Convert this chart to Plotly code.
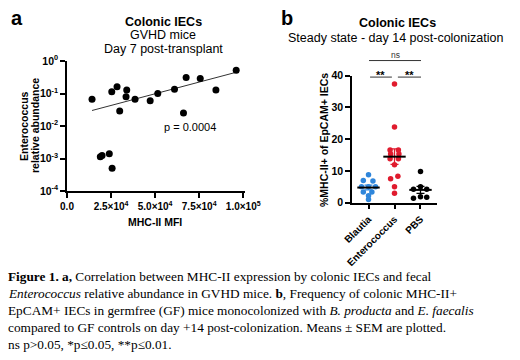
import numpy as np
import plotly.graph_objects as go

# ---------------- Panel a data ----------------
mhc_mfi = [14200, 25400, 28400, 33900, 33500, 38600, 29900, 47200, 51500, 61000,
           67600, 75600, 96000, 84500, 66100, 18900, 19900, 24000, 25600]
entero_abund = [0.066, 0.114, 0.16, 0.128, 0.08, 0.066, 0.029, 0.06, 0.10, 0.135,
                0.31, 0.29, 0.52, 0.128, 0.025, 0.00114, 0.00123, 0.0014, 0.0005]
fit_x = [14200, 96000]
fit_y = [0.030, 0.45]
p_label = "p = 0.0004"
p_pos = [70000, 0.0095]
a_xticks = [0, 25000, 50000, 75000, 100000]
a_xticktext = ["0.0", "2.5×10<sup>4</sup>", "5.0×10<sup>4</sup>", "7.5×10<sup>4</sup>", "1.0×10<sup>5</sup>"]
a_yticks = [1e-4, 1e-3, 1e-2, 1e-1, 1]
a_yticktext = ["10<sup>-4</sup>", "10<sup>-3</sup>", "10<sup>-2</sup>", "10<sup>-1</sup>", "10<sup>0</sup>"]

# ---------------- Panel b data ----------------
groups = ["Blautia", "Enterococcus", "PBS"]
blautia = [8.8, 7.0, 6.8, 5.0, 5.0, 5.0, 3.4, 3.4, 2.2, 1.0]
blautia_jit = [0, -0.2, 0.17, -0.27, 0, 0.27, -0.2, 0.13, 0, 0]
entero = [37.3, 23.8, 16.6, 16.6, 15.3, 15.3, 13.8, 13.8, 11.9, 8.3, 7.5, 5.0, 3.0]
entero_jit = [0, 0, -0.17, 0.15, -0.15, 0.17, -0.17, 0.15, 0, 0.13, -0.15, 0, 0]
pbs = [9.8, 5.0, 4.2, 4.2, 1.9, 1.7, 1.4]
pbs_jit = [0, 0, -0.27, 0.24, 0, 0.24, -0.27]
b_yticks = [0, 10, 20, 30, 40]
brackets = [  # (x0, x1, y, label)
    (0.02, 2.02, 44.7, "ns"),
    (0.06, 0.90, 39.5, "**"),
    (1.13, 2.02, 39.5, "**"),
]
label_y = {"ns": 48.6, "**": 42.8}

caption_lines = [
    "<b>Figure 1. a,</b> Correlation between MHC-II expression by colonic IECs and fecal",
    "<i>Enterococcus</i> relative abundance in GVHD mice. <b>b</b>, Frequency of colonic MHC-II+",
    "EpCAM+ IECs in germfree (GF) mice monocolonized with <i>B. producta</i> and <i>E. faecalis</i>",
    "compared to GF controls on day +14 post-colonization. Means ± SEM are plotted.",
    "ns p>0.05, *p≤0.05, **p≤0.01.",
]

colors = ["#2f86db", "#e01b2e", "#000000"]
FONT = "Liberation Sans, Arial, sans-serif"
SERIF = "Liberation Serif, Times New Roman, serif"

fig = go.Figure()

# Panel a
fig.add_trace(go.Scatter(x=fit_x, y=fit_y, mode="lines", line=dict(color="#333", width=1),
                         xaxis="x", yaxis="y", showlegend=False, hoverinfo="skip"))
fig.add_trace(go.Scatter(x=mhc_mfi, y=entero_abund, mode="markers",
                         marker=dict(color="black", size=7), xaxis="x", yaxis="y",
                         showlegend=False, cliponaxis=False))

# Panel b
data_b = [blautia, entero, pbs]
jits = [blautia_jit, entero_jit, pbs_jit]
B_YMAX = 40
for i, (vals, jit) in enumerate(zip(data_b, jits)):
    vals = np.array(vals)
    mean = vals.mean()
    sem = vals.std(ddof=1) / np.sqrt(len(vals))
    fig.add_trace(go.Scatter(x=[i + j for j in jit], y=vals, mode="markers",
                             marker=dict(color=colors[i], size=5.5), xaxis="x2", yaxis="y2",
                             showlegend=False, cliponaxis=False))
    fig.add_trace(go.Scatter(x=[i], y=[mean], mode="markers",
                             marker=dict(symbol="line-ew", size=16, line=dict(color="black", width=2)),
                             error_y=dict(type="data", array=[sem], color=colors[i], thickness=1.3, width=4),
                             xaxis="x2", yaxis="y2", showlegend=False, cliponaxis=False))

axis_common = dict(showline=True, linecolor="black", linewidth=1.5, ticks="outside",
                   ticklen=5, tickwidth=1.5, tickcolor="black", showgrid=False, zeroline=False,
                   automargin=False,
                   tickfont=dict(family=FONT, size=10, color="black", weight="bold"))

fig.update_layout(
    template="none",
    width=520, height=360, margin=dict(l=0, r=0, t=0, b=0, pad=0),
    plot_bgcolor="white", paper_bgcolor="white",
    font=dict(family=FONT, color="black"),
    xaxis=dict(domain=[67/520, 245/520], range=[0, 101000], tickvals=a_xticks,
               ticktext=a_xticktext, anchor="y", **axis_common),
    yaxis=dict(domain=[1-191/360, 1-61/360], type="log", range=[-4, 0], tickvals=a_yticks,
               ticktext=a_yticktext, anchor="x", **axis_common),
    xaxis2=dict(domain=[352/520, 437/520], range=[-0.635, 2.635], tickvals=[0, 1, 2],
                ticktext=groups, tickangle=-45, anchor="y2", **axis_common),
    yaxis2=dict(domain=[1-202.7/360, 1-75.5/360], range=[0, B_YMAX], tickvals=b_yticks,
                anchor="x2", **axis_common),
)
fig.update_xaxes(tickfont=dict(size=10))
fig.update_yaxes(tickfont=dict(size=10.5))

shapes = []
ann = []
for x0, x1, yv, lab in brackets:
    shapes.append(dict(type="line", xref="x2", yref="y2 domain", x0=x0, x1=x1,
                       y0=yv / B_YMAX, y1=yv / B_YMAX, line=dict(color="#333", width=1)))
    if lab == "ns":
        ann.append(dict(x=(x0 + x1) / 2, y=label_y[lab] / B_YMAX, xref="x2", yref="y2 domain",
                        text="ns", showarrow=False,
                        font=dict(size=8.5, color="#333", family=FONT)))
    else:
        ann.append(dict(x=(x0 + x1) / 2, y=label_y[lab] / B_YMAX, xref="x2", yref="y2 domain",
                        text="<b>**</b>", showarrow=False,
                        font=dict(size=11, color="black", family=FONT)))

ann.append(dict(x=p_pos[0], y=np.log10(p_pos[1]), xref="x", yref="y", text=p_label,
                showarrow=False, font=dict(size=11, family=FONT, color="black")))


def pa(text, x, y, size, bold=False, angle=0, xanchor="center", family=FONT):
    t = f"<b>{text}</b>" if bold else text
    return dict(x=x / 520, y=1 - y / 360, xref="paper", yref="paper", text=t, showarrow=False,
                xanchor=xanchor, yanchor="middle", textangle=angle,
                font=dict(size=size, family=family, color="black"))


ann += [
    pa("a", 17, 18, 20, bold=True),
    pa("b", 287, 18, 20, bold=True),
    pa("Colonic IECs", 163, 22, 12.5, bold=True),
    pa("GVHD mice", 163, 35.5, 12.5),
    pa("Day 7 post-transplant", 163, 49, 12.5),
    pa("Colonic IECs", 397, 23, 12.5, bold=True),
    pa("Steady state - day 14 post-colonization", 395, 38, 12.5),
    pa("Enterococcus", 24, 126, 10.5, bold=True, angle=-90),
    pa("relative abundance", 35, 126, 10.5, bold=True, angle=-90),
    pa("MHC-II MFI", 155, 222, 10.5, bold=True),
    pa("%MHC-II+ of EpCAM+ IECs", 324, 140, 10.5, bold=True, angle=-90),
]

for k, line in enumerate(caption_lines):
    ann.append(pa(line, 6, 276 + 17 * k, 13.3, xanchor="left", family=SERIF))

fig.update_layout(shapes=shapes, annotations=ann)
fig.write_html("out.html", config={"displayModeBar": False},
               post_script="document.body.style.margin='0';document.body.style.overflow='hidden';")
